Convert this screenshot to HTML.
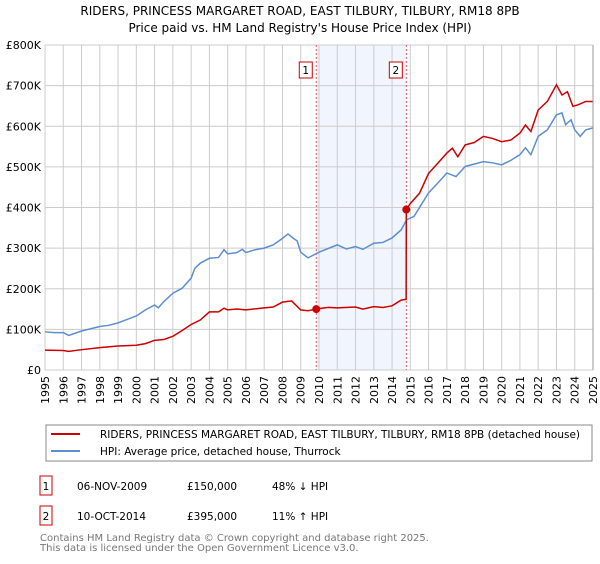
<!DOCTYPE html>
<html><head><meta charset="utf-8">
<style>
body{margin:0;background:#fff;font-family:"DejaVu Sans","Liberation Sans",sans-serif;}
svg text{font-family:"DejaVu Sans","Liberation Sans",sans-serif;}
</style></head>
<body>
<svg id="chart" width="600" height="560" viewBox="0 0 600 560" xmlns="http://www.w3.org/2000/svg">
<text x="300" y="15" text-anchor="middle" font-size="12">RIDERS, PRINCESS MARGARET ROAD, EAST TILBURY, TILBURY, RM18 8PB</text>
<text x="300" y="32" text-anchor="middle" font-size="12">Price paid vs. HM Land Registry's House Price Index (HPI)</text>
<g id="grid"></g><g id="marks"></g>
<g>
<rect x="46" y="425" width="546" height="36" fill="#fff" stroke="#888"/>
<line x1="51" y1="434" x2="80" y2="434" stroke="#cc0000" stroke-width="2"/>
<text x="100" y="438" font-size="10.5">RIDERS, PRINCESS MARGARET ROAD, EAST TILBURY, TILBURY, RM18 8PB (detached house)</text>
<line x1="51" y1="451" x2="80" y2="451" stroke="#5b8fd0" stroke-width="2"/>
<text x="100" y="455" font-size="10.5">HPI: Average price, detached house, Thurrock</text>
</g>
<g font-size="10.5">
<rect x="40" y="476" width="12" height="19" fill="#fff" stroke="#cc0000"/>
<text x="46" y="490" text-anchor="middle">1</text>
<text x="77" y="490">06-NOV-2009</text><text x="187" y="490">£150,000</text><text x="272" y="490">48% ↓ HPI</text>
<rect x="40" y="506" width="12" height="19" fill="#fff" stroke="#cc0000"/>
<text x="46" y="520" text-anchor="middle">2</text>
<text x="77" y="520">10-OCT-2014</text><text x="187" y="520">£395,000</text><text x="272" y="520">11% ↑ HPI</text>
</g>
<text x="40" y="541" font-size="10" fill="#777">Contains HM Land Registry data © Crown copyright and database right 2025.</text>
<text x="40" y="551" font-size="10" fill="#777">This data is licensed under the Open Government Licence v3.0.</text>
</svg>
<script>
const hpiYears=[1995,1995.5,1996,1996.3,1997,1998,1998.5,1999,2000,2000.5,2001,2001.2,2001.5,2002,2002.5,2003,2003.2,2003.5,2004,2004.5,2004.8,2005,2005.5,2005.8,2006,2006.5,2007,2007.5,2008,2008.3,2008.6,2008.8,2009,2009.4,2010,2011,2011.5,2012,2012.4,2013,2013.5,2014,2014.5,2014.8,2015.2,2016,2016.5,2017,2017.5,2018,2019,2019.5,2020,2020.5,2021,2021.3,2021.6,2022,2022.5,2023,2023.3,2023.5,2023.8,2024,2024.3,2024.6,2025];
const hpiValues=[94,92,92,85,96,107,110,116,133,148,160,153,168,189,201,226,250,263,275,277,296,286,289,297,289,296,300,308,324,335,324,318,290,276,290,308,298,304,297,312,314,325,345,370,378,436,460,485,476,501,513,510,505,516,530,547,530,575,591,628,633,604,616,591,575,591,596];
const ppYears=[1995,1996,1996.3,1997,1998,1999,2000,2000.5,2001,2001.5,2002,2002.5,2003,2003.5,2004,2004.5,2004.8,2005,2005.5,2006,2007,2007.5,2008,2008.5,2009,2009.4,2009.85,2010,2010.5,2011,2012,2012.4,2013,2013.5,2014,2014.5,2014.77,2014.78,2015,2015.5,2016,2016.5,2017,2017.3,2017.6,2018,2018.5,2019,2019.5,2020,2020.5,2021,2021.3,2021.6,2022,2022.5,2023,2023.3,2023.6,2023.9,2024.2,2024.6,2025];
const ppValues=[49,48,46,50,55,59,61,65,73,75,83,97,112,123,143,143,152,148,150,148,153,155,167,170,148,146,150,151,154,153,155,150,156,154,158,172,174,395,410,435,484,509,534,546,525,554,560,575,570,562,566,583,603,587,640,661,702,677,685,649,653,661,661];
const saleYears=[2009.85,2014.78];
const saleValues=[150,395];
const saleLabels=["1","2"];
const yTicks=[0,100,200,300,400,500,600,700,800];
const yTickLabels=["£0","£100K","£200K","£300K","£400K","£500K","£600K","£700K","£800K"];
const xTicks=[1995,1996,1997,1998,1999,2000,2001,2002,2003,2004,2005,2006,2007,2008,2009,2010,2011,2012,2013,2014,2015,2016,2017,2018,2019,2020,2021,2022,2023,2024,2025];

const L=45,R=593,T=45,B=370,NS="http://www.w3.org/2000/svg";
const xS=y=>L+(y-1995)/30*(R-L);
const yS=v=>B-v/800*(B-T);
function mk(tag,attrs,parent){const e=document.createElementNS(NS,tag);for(const k in attrs)e.setAttribute(k,attrs[k]);parent.appendChild(e);return e;}
const grid=document.getElementById('grid'),marks=document.getElementById('marks');
// shaded period
const sh=mk('rect',{x:xS(saleYears[0]),y:T,width:xS(saleYears[1])-xS(saleYears[0]),height:B-T,fill:'#eef3fc',opacity:0.8},grid);


xTicks.forEach(t=>{
  const l=mk('line',{x1:xS(t),x2:xS(t),y1:T,y2:B,stroke:'#ccc','stroke-width':1},grid);
  
  
  const tx=mk('text',{x:0,y:0,'font-size':11,'text-anchor':'end',transform:`translate(${xS(t)+4},${B+6}) rotate(-90)`},grid);
  tx.textContent=t;
  
  
});
yTicks.forEach((t,i)=>{
  const l=mk('line',{x1:L,x2:R,y1:yS(t),y2:yS(t),stroke:'#ccc','stroke-width':1},grid);
  
  
  const tx=mk('text',{x:L-4,y:yS(t)+4,'font-size':11,'text-anchor':'end'},grid);
  tx.textContent=yTickLabels[i];
  
  
});
saleYears.forEach((s,i)=>{
  const l=mk('line',{x1:xS(s),x2:xS(s),y1:T,y2:B,stroke:'#e55','stroke-width':1,'stroke-dasharray':'2,2'},marks);
  
  
  const b=mk('rect',{x:xS(s)-17,y:62,width:13,height:16,fill:'#fff',stroke:'#cc0000'},marks);
  
  
  const t=mk('text',{x:xS(s)-10.5,y:74,'font-size':10.5,'text-anchor':'middle'},marks);
  t.textContent=saleLabels[i];
  
  
});
const hp=mk('polyline',{points:hpiYears.map((y,i)=>xS(y)+','+yS(hpiValues[i])).join(' '),fill:'none',stroke:'#5b8fd0','stroke-width':1.5},marks);


const pp=mk('polyline',{points:ppYears.map((y,i)=>xS(y)+','+yS(ppValues[i])).join(' '),fill:'none',stroke:'#cc0000','stroke-width':1.5},marks);


saleYears.forEach((s,i)=>{
  const c=mk('circle',{cx:xS(s),cy:yS(saleValues[i]),r:4,fill:'#cc0000'},marks);
  
  
});
const ax=mk('line',{x1:R,x2:R,y1:T,y2:B,stroke:'#999'},marks);


</script>
</body></html>
